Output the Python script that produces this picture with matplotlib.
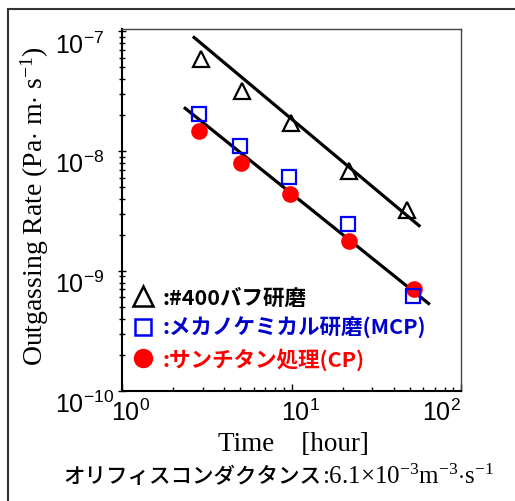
import matplotlib
matplotlib.use("Agg")
import matplotlib.pyplot as plt
from matplotlib.lines import Line2D
from matplotlib.patches import Rectangle
from matplotlib.transforms import ScaledTranslation
from matplotlib.ticker import NullFormatter, LogLocator

plt.rcParams['font.family'] = ['Liberation Sans']
plt.rcParams['mathtext.fontset'] = 'custom'
plt.rcParams['mathtext.rm'] = 'Liberation Serif'
plt.rcParams['mathtext.it'] = 'Liberation Serif:italic'
plt.rcParams['axes.unicode_minus'] = False

# ---- data ----
t_buff = [2.92, 5.11, 9.93, 21.7, 48.3]
r_buff = [5.86e-8, 3.18e-8, 1.70e-8, 6.87e-9, 3.21e-9]

t_mcp = [2.86, 4.94, 9.67, 21.6, 52.4]
r_mcp = [2.03e-8, 1.11e-8, 6.05e-9, 2.44e-9, 6.21e-10]

t_cp = [2.86, 5.02, 9.80, 21.7, 52.6]
r_cp = [1.466e-8, 7.96e-9, 4.37e-9, 1.76e-9, 7.02e-10]

fit_upper_t = [2.62, 57.5]
fit_upper_r = [9.05e-8, 2.34e-9]
fit_lower_t = [2.32, 65.5]
fit_lower_r = [2.32e-8, 5.24e-10]

legend_labels = [':#400バフ研磨', ':メカノケミカル研磨(MCP)', ':サンチタン処理(CP)']
legend_colors = ['black', '#0000cc', '#ff0000']

x_tick_values = [1, 10, 100]
x_tick_labels = [r'$\mathdefault{10^{0}}$', r'$\mathdefault{10^{1}}$', r'$\mathdefault{10^{2}}$']
y_tick_values = [1e-10, 1e-9, 1e-8, 1e-7]
y_tick_labels = [r'$\mathdefault{10^{-10}}$', r'$\mathdefault{10^{-9}}$',
                 r'$\mathdefault{10^{-8}}$', r'$\mathdefault{10^{-7}}$']

xlabel = 'Time    [hour]'
ylabel = r'Outgassing Rate (Pa$\cdot$ m$\cdot$ s$^{\mathdefault{-1}}$)'
note_jp = 'オリフィスコンダクタンス'
note_num = r':6.1$\times$10$^{\mathdefault{-3}}$m$^{\mathdefault{-3}}$$\cdot$s$^{\mathdefault{-1}}$'

# ---- figure ----
W, H = 515, 502
fig = plt.figure(figsize=(W / 100, H / 100), dpi=100)
ax = fig.add_axes([122 / W, 1 - 391.7 / H, (461 - 122) / W, (391.7 - 29.5) / H])

# outer frame
fig.add_artist(Rectangle((8 / W, -0.1), 1.2, (1 - 10 / H) + 0.1, transform=fig.transFigure,
                         fill=False, ec='#333333', lw=1.5, clip_on=False))

ax.set_xscale('log')
ax.set_yscale('log')
ax.set_xlim(1, 100)
ax.set_ylim(1e-10, 1.055e-7)

ax.plot(fit_upper_t, fit_upper_r, color='black', lw=2.3, solid_capstyle='butt', zorder=2)
ax.plot(fit_lower_t, fit_lower_r, color='black', lw=2.3, solid_capstyle='butt', zorder=2)

ax.plot(t_buff, r_buff, ls='none', marker='^', ms=12, mfc='none', mec='black', mew=1.6, zorder=3)
ax.plot(t_cp, r_cp, ls='none', marker='o', ms=12, mfc='#ff0000', mec='#ff0000', mew=0, zorder=3)
ax.plot(t_mcp, r_mcp, ls='none', marker='s', ms=9.5, mfc='none', mec='#0000ff', mew=1.6, zorder=4)

# spines
for s in ['left', 'bottom']:
    ax.spines[s].set_linewidth(1.5)
    ax.spines[s].set_color('black')
for s in ['top', 'right']:
    ax.spines[s].set_linewidth(1.0)
    ax.spines[s].set_color('#444444')

# ticks
ax.set_xticks(x_tick_values)
ax.set_xticklabels(x_tick_labels)
ax.set_yticks(y_tick_values)
ax.set_yticklabels(y_tick_labels)
ax.xaxis.set_minor_locator(LogLocator(base=10, subs=range(2, 10)))
ax.yaxis.set_minor_locator(LogLocator(base=10, subs=range(2, 10)))
ax.xaxis.set_minor_formatter(NullFormatter())
ax.yaxis.set_minor_formatter(NullFormatter())

ax.tick_params(axis='x', which='major', direction='in', length=5, width=1, labelsize=18, pad=6)
ax.tick_params(axis='x', which='minor', direction='in', length=3, width=1)
ax.tick_params(axis='y', which='major', direction='inout', length=6, width=1, labelsize=18, pad=45)
ax.tick_params(axis='y', which='minor', direction='inout', length=4, width=1)
ax.tick_params(top=False, right=False)

for lbl in ax.get_yticklabels():
    lbl.set_horizontalalignment('left')
    lbl.set_verticalalignment('top')

x_offsets = [9, 9, -20]
for lbl, dx in zip(ax.get_xticklabels(), x_offsets):
    lbl.set_transform(lbl.get_transform() + ScaledTranslation(dx / 100, 0, fig.dpi_scale_trans))

# labels
ax.set_xlabel(xlabel, family='Liberation Serif', fontsize=19.5)
ax.xaxis.set_label_coords((293.5 - 122) / (461 - 122), (391.7 - 445) / 362.2)
ax.xaxis.label.set_verticalalignment('center')
ax.set_ylabel(ylabel, family='Liberation Serif', fontsize=20)
ax.yaxis.set_label_coords((35 - 122) / (461 - 122), (391.7 - 206.5) / 362.2)
ax.yaxis.label.set_verticalalignment('center')

# legend
handles = [
    Line2D([], [], ls='none', marker='^', ms=15, mfc='none', mec='black', mew=1.8),
    Line2D([], [], ls='none', marker='s', ms=12, mfc='none', mec='#0000ff', mew=1.8),
    Line2D([], [], ls='none', marker='o', ms=14, mfc='#ff0000', mec='#ff0000', mew=0),
]
leg = ax.legend(handles, legend_labels, loc='upper left', bbox_to_anchor=(0.024, 0.288),
                frameon=False, borderpad=0, borderaxespad=0, handlelength=1.2,
                handletextpad=0.3, labelspacing=0.42, labelcolor=legend_colors,
                prop={'family': ['Noto Sans CJK JP'], 'weight': 'bold', 'size': 15.5})

# bottom note
fig.text(321 / W, 1 - 476.7 / H, note_jp, ha='right', va='center',
         family=['Noto Sans CJK JP'], fontsize=15.5, weight='medium')
fig.text(322 / W, 1 - 476.7 / H, note_num, ha='left', va='center',
         family='Liberation Serif', fontsize=18)

fig.savefig('out.png', dpi=100)
